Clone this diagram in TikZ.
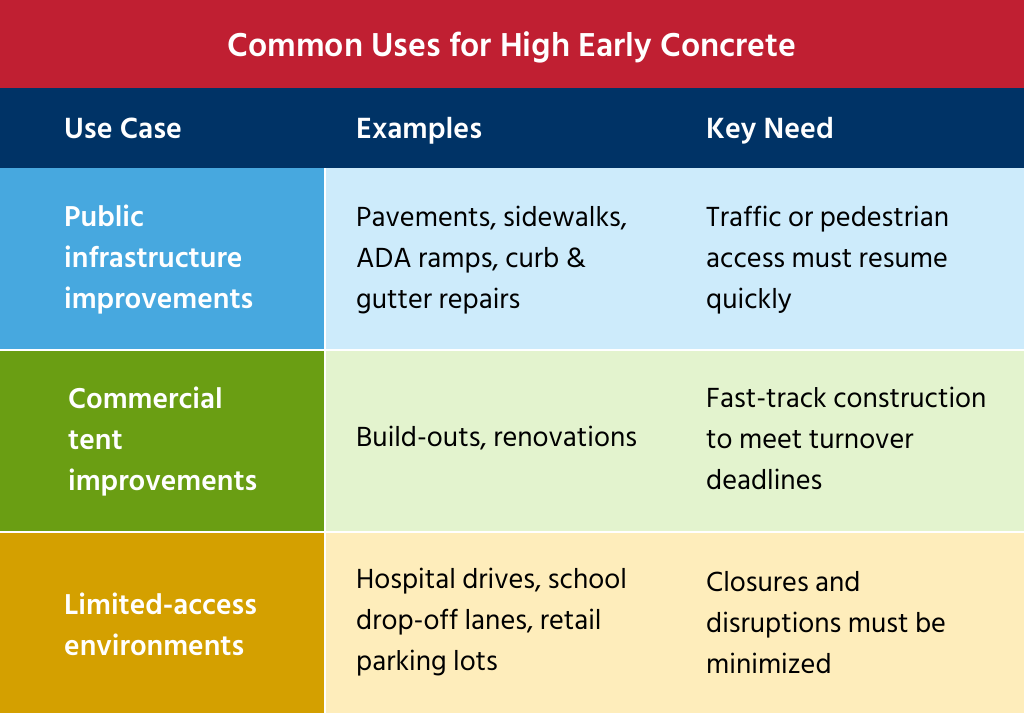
\documentclass[tikz,border=0pt]{standalone}
\usepackage{fontspec}
\setmainfont{Hind Siliguri}
\begin{document}
\begin{tikzpicture}[x=1pt,y=-1pt,
  txt/.style={anchor=west,align=left,inner sep=0pt,font=\fontsize{28.4}{41}\selectfont},
  wtxt/.style={txt,text=white,font=\fontsize{29.5}{41}\selectfont\bfseries},
  htxt/.style={anchor=base west,inner sep=0pt,text=white,font=\fontsize{30}{41}\selectfont\bfseries},
  sep/.style={white,line width=1.5pt}]
\definecolor{tred}{HTML}{C01F32}
\definecolor{navy}{HTML}{003366}
\definecolor{c1a}{HTML}{47A8DF}\definecolor{c1b}{HTML}{CDEBFB}
\definecolor{c2a}{HTML}{6A9E13}\definecolor{c2b}{HTML}{E3F3CE}
\definecolor{c3a}{HTML}{D4A000}\definecolor{c3b}{HTML}{FEEDBB}
\useasboundingbox (0,0) rectangle (1024,713);
\fill[tred] (0,0) rectangle (1024,88);
\fill[navy] (0,88) rectangle (1024,168);
\fill[c1a] (0,168) rectangle (325,350); \fill[c1b] (325,168) rectangle (1024,350);
\fill[c2a] (0,350) rectangle (325,532); \fill[c2b] (325,350) rectangle (1024,532);
\fill[c3a] (0,532) rectangle (325,713); \fill[c3b] (325,532) rectangle (1024,713);
\draw[sep] (0,350) -- (1024,350); \draw[sep] (0,532) -- (1024,532);
\draw[sep] (325,168) -- (325,713);
\node[text=white,font=\fontsize{34}{40}\selectfont\bfseries,inner sep=0pt,anchor=base] (title) at (512,56) {Common Uses for High Early Concrete};
\node[htxt] (h1) at (64,138) {Use Case};
\node[htxt] (h2) at (356,138) {Examples};
\node[htxt] (h3) at (706,138) {Key Need};
\node[wtxt] (a1) at (64,260) {Public\\infrastructure\\improvements};
\node[txt] (b1) at (356,260) {Pavements, sidewalks,\\ADA ramps, curb \&\\gutter repairs};
\node[txt] (c1) at (706,260) {Traffic or pedestrian\\access must resume\\quickly};
\node[wtxt] (a2) at (68,442) {Commercial\\tent\\improvements};
\node[txt] (b2) at (356,438) {Build-outs, renovations};
\node[txt] (c2) at (706,438) {Fast-track construction\\to meet turnover\\deadlines};
\node[wtxt] (a3) at (64,624) {Limited-access\\environments};
\node[txt] (b3) at (356,622) {Hospital drives, school\\drop-off lanes, retail\\parking lots};
\node[txt] (c3) at (706,623) {Closures and\\disruptions must be\\minimized};
\end{tikzpicture}
\end{document}
